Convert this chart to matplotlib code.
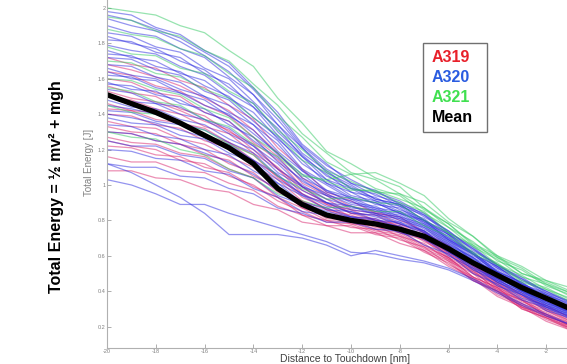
import matplotlib
matplotlib.use("Agg")
import matplotlib.pyplot as plt
from matplotlib.patches import Rectangle

plt.rcParams['font.family'] = ['Liberation Sans', 'DejaVu Sans']

# distance to touchdown [nm]
dist = [-20, -19, -18, -17, -16, -15, -14, -13, -12, -11,
        -10, -9, -8, -7, -6, -5, -4, -3, -2, -1]

# total energy per flight
a319 = [
    [1.64, 1.62, 1.56, 1.53, 1.45, 1.39, 1.27, 1.16, 1.01, 0.94, 0.86, 0.84, 0.78, 0.73, 0.62, 0.55, 0.44, 0.38, 0.30, 0.24],
    [1.56, 1.52, 1.50, 1.43, 1.39, 1.30, 1.23, 1.09, 0.99, 0.89, 0.86, 0.80, 0.78, 0.70, 0.63, 0.52, 0.45, 0.35, 0.30, 0.23],
    [1.50, 1.48, 1.43, 1.40, 1.33, 1.29, 1.18, 1.09, 0.95, 0.89, 0.82, 0.81, 0.75, 0.71, 0.60, 0.53, 0.42, 0.36, 0.27, 0.22],
    [1.46, 1.42, 1.41, 1.35, 1.32, 1.24, 1.17, 1.04, 0.95, 0.86, 0.83, 0.78, 0.76, 0.68, 0.61, 0.50, 0.43, 0.33, 0.28, 0.21],
    [1.40, 1.39, 1.34, 1.32, 1.25, 1.21, 1.11, 1.03, 0.91, 0.86, 0.80, 0.79, 0.73, 0.69, 0.58, 0.51, 0.41, 0.35, 0.26, 0.21],
    [1.36, 1.33, 1.32, 1.26, 1.23, 1.16, 1.10, 0.98, 0.91, 0.83, 0.81, 0.76, 0.74, 0.66, 0.59, 0.48, 0.42, 0.32, 0.27, 0.20],
    [1.30, 1.29, 1.25, 1.23, 1.17, 1.14, 1.05, 0.98, 0.87, 0.83, 0.78, 0.77, 0.71, 0.67, 0.57, 0.50, 0.39, 0.33, 0.25, 0.20],
    [1.27, 1.24, 1.23, 1.18, 1.16, 1.09, 1.04, 0.93, 0.87, 0.80, 0.79, 0.74, 0.72, 0.64, 0.58, 0.47, 0.41, 0.31, 0.26, 0.19],
    [1.22, 1.21, 1.17, 1.16, 1.10, 1.07, 0.99, 0.93, 0.83, 0.80, 0.76, 0.75, 0.69, 0.65, 0.55, 0.48, 0.38, 0.32, 0.24, 0.19],
    [1.16, 1.13, 1.13, 1.08, 1.07, 1.01, 0.97, 0.88, 0.83, 0.77, 0.77, 0.72, 0.70, 0.62, 0.56, 0.46, 0.40, 0.30, 0.25, 0.18],
    [1.08, 1.08, 1.04, 1.03, 0.98, 0.96, 0.89, 0.86, 0.79, 0.77, 0.73, 0.73, 0.67, 0.63, 0.54, 0.47, 0.37, 0.31, 0.23, 0.18],
    [1.72, 1.68, 1.66, 1.59, 1.55, 1.45, 1.37, 1.21, 1.09, 0.96, 0.91, 0.84, 0.82, 0.73, 0.66, 0.54, 0.47, 0.37, 0.32, 0.25],
    [1.60, 1.58, 1.52, 1.50, 1.41, 1.36, 1.24, 1.14, 0.99, 0.92, 0.84, 0.83, 0.76, 0.72, 0.61, 0.54, 0.43, 0.37, 0.29, 0.23],
    [1.33, 1.30, 1.29, 1.23, 1.20, 1.12, 1.07, 0.96, 0.89, 0.81, 0.80, 0.75, 0.73, 0.65, 0.59, 0.48, 0.42, 0.31, 0.27, 0.20],
    [1.53, 1.49, 1.47, 1.42, 1.36, 1.31, 1.20, 1.10, 0.97, 0.90, 0.84, 0.80, 0.77, 0.69, 0.62, 0.51, 0.44, 0.34, 0.29, 0.22],
    [1.43, 1.42, 1.37, 1.35, 1.28, 1.24, 1.14, 1.05, 0.93, 0.87, 0.81, 0.80, 0.74, 0.70, 0.59, 0.52, 0.40, 0.35, 0.26, 0.21],
    [1.25, 1.22, 1.20, 1.14, 1.12, 1.05, 1.00, 0.91, 0.85, 0.79, 0.78, 0.73, 0.71, 0.63, 0.57, 0.46, 0.40, 0.30, 0.25, 0.19],
    [1.68, 1.65, 1.61, 1.56, 1.49, 1.42, 1.31, 1.18, 1.04, 0.95, 0.88, 0.85, 0.80, 0.74, 0.64, 0.56, 0.45, 0.39, 0.31, 0.25],
]
a320 = [
    [1.98, 1.96, 1.89, 1.85, 1.76, 1.69, 1.55, 1.41, 1.23, 1.12, 1.01, 0.97, 0.89, 0.84, 0.73, 0.65, 0.54, 0.48, 0.39, 0.34],
    [1.90, 1.86, 1.84, 1.77, 1.72, 1.61, 1.51, 1.34, 1.21, 1.07, 1.00, 0.92, 0.89, 0.80, 0.73, 0.61, 0.54, 0.44, 0.39, 0.32],
    [1.82, 1.81, 1.75, 1.72, 1.63, 1.57, 1.44, 1.32, 1.16, 1.06, 0.96, 0.93, 0.86, 0.81, 0.70, 0.62, 0.51, 0.45, 0.36, 0.31],
    [1.76, 1.72, 1.70, 1.63, 1.59, 1.49, 1.41, 1.26, 1.14, 1.01, 0.96, 0.89, 0.87, 0.78, 0.71, 0.59, 0.52, 0.42, 0.37, 0.30],
    [1.72, 1.71, 1.65, 1.62, 1.53, 1.48, 1.36, 1.25, 1.09, 1.01, 0.93, 0.90, 0.84, 0.79, 0.68, 0.61, 0.50, 0.44, 0.35, 0.30],
    [1.66, 1.62, 1.60, 1.54, 1.50, 1.41, 1.34, 1.19, 1.08, 0.97, 0.93, 0.87, 0.85, 0.77, 0.70, 0.58, 0.51, 0.41, 0.36, 0.29],
    [1.62, 1.61, 1.55, 1.52, 1.45, 1.40, 1.29, 1.18, 1.04, 0.97, 0.90, 0.88, 0.82, 0.78, 0.67, 0.59, 0.49, 0.43, 0.34, 0.29],
    [1.58, 1.54, 1.53, 1.46, 1.43, 1.34, 1.27, 1.13, 1.03, 0.94, 0.91, 0.85, 0.83, 0.75, 0.68, 0.57, 0.50, 0.40, 0.35, 0.28],
    [1.54, 1.52, 1.46, 1.44, 1.37, 1.32, 1.22, 1.12, 0.99, 0.94, 0.87, 0.86, 0.80, 0.76, 0.65, 0.58, 0.47, 0.41, 0.32, 0.28],
    [1.48, 1.44, 1.43, 1.37, 1.34, 1.26, 1.20, 1.07, 0.99, 0.90, 0.88, 0.83, 0.81, 0.73, 0.66, 0.55, 0.49, 0.39, 0.34, 0.27],
    [1.42, 1.41, 1.36, 1.34, 1.27, 1.23, 1.14, 1.06, 0.94, 0.90, 0.84, 0.83, 0.78, 0.74, 0.63, 0.56, 0.46, 0.40, 0.31, 0.27],
    [1.38, 1.35, 1.34, 1.28, 1.26, 1.18, 1.13, 1.01, 0.94, 0.86, 0.85, 0.80, 0.79, 0.71, 0.64, 0.53, 0.47, 0.38, 0.33, 0.26],
    [1.34, 1.33, 1.28, 1.26, 1.20, 1.17, 1.08, 1.01, 0.90, 0.87, 0.82, 0.81, 0.76, 0.72, 0.62, 0.55, 0.45, 0.39, 0.30, 0.26],
    [1.25, 1.22, 1.22, 1.17, 1.15, 1.08, 1.04, 0.94, 0.89, 0.83, 0.82, 0.78, 0.77, 0.69, 0.63, 0.52, 0.46, 0.36, 0.32, 0.25],
    [1.20, 1.19, 1.15, 1.14, 1.08, 1.06, 0.98, 0.93, 0.85, 0.83, 0.79, 0.78, 0.73, 0.70, 0.60, 0.53, 0.43, 0.38, 0.29, 0.25],
    [1.12, 1.10, 1.10, 1.05, 1.04, 0.98, 0.95, 0.87, 0.84, 0.79, 0.79, 0.75, 0.74, 0.66, 0.61, 0.50, 0.44, 0.35, 0.31, 0.24],
    [1.86, 1.84, 1.78, 1.75, 1.66, 1.60, 1.47, 1.34, 1.18, 1.08, 0.98, 0.95, 0.88, 0.83, 0.72, 0.64, 0.53, 0.47, 0.38, 0.33],
    [1.79, 1.76, 1.74, 1.67, 1.62, 1.52, 1.44, 1.28, 1.16, 1.03, 0.98, 0.91, 0.88, 0.79, 0.72, 0.60, 0.53, 0.43, 0.38, 0.31],
    [1.68, 1.67, 1.61, 1.58, 1.50, 1.45, 1.34, 1.23, 1.08, 1.00, 0.92, 0.90, 0.84, 0.80, 0.69, 0.61, 0.50, 0.44, 0.35, 0.30],
    [1.94, 1.90, 1.87, 1.81, 1.73, 1.64, 1.51, 1.37, 1.21, 1.09, 1.01, 0.94, 0.90, 0.82, 0.74, 0.63, 0.55, 0.46, 0.40, 0.33],
    [1.45, 1.43, 1.40, 1.35, 1.31, 1.24, 1.18, 1.05, 0.97, 0.90, 0.86, 0.84, 0.79, 0.74, 0.64, 0.57, 0.47, 0.41, 0.33, 0.28],
    [1.03, 1.00, 0.95, 0.89, 0.89, 0.84, 0.80, 0.76, 0.72, 0.68, 0.62, 0.61, 0.58, 0.56, 0.52, 0.46, 0.39, 0.32, 0.26, 0.21],
    [1.12, 1.07, 1.00, 0.93, 0.84, 0.72, 0.72, 0.72, 0.70, 0.66, 0.60, 0.63, 0.60, 0.57, 0.53, 0.47, 0.40, 0.33, 0.27, 0.21],
    [1.84, 1.80, 1.77, 1.70, 1.65, 1.55, 1.46, 1.30, 1.17, 1.05, 0.99, 0.92, 0.89, 0.80, 0.72, 0.61, 0.54, 0.44, 0.38, 0.32],
    [1.74, 1.73, 1.67, 1.64, 1.56, 1.50, 1.38, 1.27, 1.12, 1.03, 0.94, 0.91, 0.85, 0.80, 0.69, 0.62, 0.51, 0.45, 0.36, 0.31],
    [1.64, 1.60, 1.59, 1.52, 1.48, 1.39, 1.31, 1.17, 1.06, 0.96, 0.92, 0.86, 0.84, 0.76, 0.69, 0.57, 0.51, 0.41, 0.36, 0.29],
    [1.57, 1.56, 1.51, 1.48, 1.41, 1.36, 1.25, 1.15, 1.02, 0.95, 0.89, 0.87, 0.81, 0.77, 0.66, 0.59, 0.48, 0.42, 0.33, 0.29],
    [1.51, 1.47, 1.46, 1.40, 1.37, 1.29, 1.22, 1.09, 1.00, 0.92, 0.88, 0.84, 0.82, 0.74, 0.67, 0.56, 0.49, 0.40, 0.34, 0.28],
    [1.40, 1.38, 1.35, 1.31, 1.27, 1.21, 1.14, 1.03, 0.95, 0.88, 0.85, 0.82, 0.78, 0.73, 0.63, 0.56, 0.46, 0.40, 0.32, 0.27],
    [1.30, 1.29, 1.25, 1.23, 1.18, 1.13, 1.06, 0.97, 0.90, 0.85, 0.82, 0.80, 0.76, 0.71, 0.62, 0.54, 0.45, 0.38, 0.31, 0.26],
    [1.96, 1.93, 1.88, 1.83, 1.75, 1.67, 1.54, 1.39, 1.22, 1.11, 1.03, 0.96, 0.91, 0.83, 0.74, 0.64, 0.55, 0.47, 0.40, 0.34],
]
a321 = [
    [2.00, 1.98, 1.96, 1.90, 1.86, 1.76, 1.67, 1.49, 1.35, 1.19, 1.12, 1.04, 0.99, 0.87, 0.78, 0.66, 0.59, 0.50, 0.46, 0.40],
    [1.55, 1.53, 1.47, 1.45, 1.37, 1.33, 1.23, 1.16, 1.05, 1.03, 1.06, 1.07, 1.01, 0.94, 0.81, 0.71, 0.59, 0.53, 0.44, 0.39],
    [1.88, 1.85, 1.83, 1.77, 1.73, 1.63, 1.55, 1.39, 1.27, 1.13, 1.06, 0.98, 0.94, 0.84, 0.76, 0.65, 0.58, 0.48, 0.44, 0.37],
    [1.70, 1.69, 1.63, 1.61, 1.54, 1.49, 1.38, 1.28, 1.14, 1.07, 0.98, 0.96, 0.90, 0.85, 0.73, 0.66, 0.55, 0.49, 0.41, 0.36],
    [1.45, 1.41, 1.40, 1.34, 1.31, 1.23, 1.17, 1.05, 0.98, 0.92, 0.93, 0.90, 0.89, 0.80, 0.73, 0.62, 0.56, 0.46, 0.42, 0.35],
    [1.60, 1.59, 1.54, 1.51, 1.43, 1.38, 1.27, 1.18, 1.06, 1.02, 0.97, 0.97, 0.92, 0.87, 0.76, 0.68, 0.57, 0.52, 0.43, 0.38],
    [1.30, 1.27, 1.26, 1.20, 1.17, 1.09, 1.04, 0.95, 0.91, 0.87, 0.88, 0.85, 0.85, 0.77, 0.71, 0.61, 0.55, 0.45, 0.41, 0.34],
    [1.95, 1.93, 1.87, 1.84, 1.76, 1.70, 1.57, 1.45, 1.29, 1.18, 1.07, 1.03, 0.95, 0.90, 0.79, 0.71, 0.60, 0.54, 0.46, 0.42],
    [1.78, 1.74, 1.73, 1.66, 1.63, 1.53, 1.46, 1.31, 1.20, 1.08, 1.02, 0.96, 0.95, 0.86, 0.78, 0.67, 0.60, 0.50, 0.45, 0.39],
]
mean = [1.51, 1.46, 1.41, 1.35, 1.28, 1.21, 1.12, 0.98, 0.89, 0.83,
        0.80, 0.78, 0.75, 0.71, 0.64, 0.56, 0.49, 0.42, 0.36, 0.30]

y_ticks = [0.2, 0.4, 0.6, 0.8, 1, 1.2, 1.4, 1.6, 1.8, 2]
y_labels = ['0.2', '0.4', '0.6', '0.8', '1', '1.2', '1.4', '1.6', '1.8', '2']
x_ticks = [-20, -18, -16, -14, -12, -10, -8, -6, -4, -2]

W, H = 567, 364
fig = plt.figure(figsize=(W / 100, H / 100), dpi=100)
# axes runs past the right edge of the slide crop, like the original screenshot
ax = fig.add_axes([107 / W, 16 / H, 488 / W, 348 / H])

for e in a319:
    ax.plot(dist, e, color='#d8206a', lw=0.9, alpha=0.5)
for e in a320:
    ax.plot(dist, e, color='#2a2ae0', lw=0.9, alpha=0.5)
for e in a321:
    ax.plot(dist, e, color='#30c860', lw=0.9, alpha=0.5)
ax.plot(dist, mean, color='black', lw=3.8, solid_capstyle='round')

ax.set_xlim(-20, 0)
ax.set_ylim(0.079, 2.045)
ax.set_xticks(x_ticks)
ax.set_xticklabels([str(t) for t in x_ticks])
ax.set_yticks(y_ticks)
ax.set_yticklabels(y_labels)
ax.tick_params(direction='in', length=3, width=0.6, colors='#a0a0a0',
               labelsize=4, labelcolor='#808080', pad=1)
for s in ['top', 'right']:
    ax.spines[s].set_visible(False)
for s in ['left', 'bottom']:
    ax.spines[s].set_color('#b0b0b0')
    ax.spines[s].set_linewidth(0.8)

# labels
fig.text(57 / W, 1 - 187 / H, 'Total Energy = ½ mv² + mgh', rotation=90,
         fontsize=11.5, fontweight='bold', ha='center', va='center')
fig.text(89 / W, 1 - 162 / H, 'Total Energy [J]', rotation=90,
         fontsize=7, color='#808080', ha='center', va='center')
fig.text(280 / W, 0.0, 'Distance to Touchdown [nm]',
         fontsize=7.5, color='#404040', ha='left', va='bottom')

# legend box
fig.patches.append(Rectangle((423 / W, 1 - 132 / H), 64 / W, 89 / H,
                             transform=fig.transFigure, facecolor='white',
                             edgecolor='#707070', lw=1, zorder=5))
leg = [('A319', '#e8202a'), ('A320', '#2a5ce0'), ('A321', '#40e050'), ('Mean', 'black')]
for i, (name, c) in enumerate(leg):
    fig.text(432 / W, 1 - (58 + 20 * i) / H, name, color=c, fontsize=11.5,
             fontweight='bold', ha='left', va='center', zorder=6)

fig.savefig('out.png', dpi=100)
